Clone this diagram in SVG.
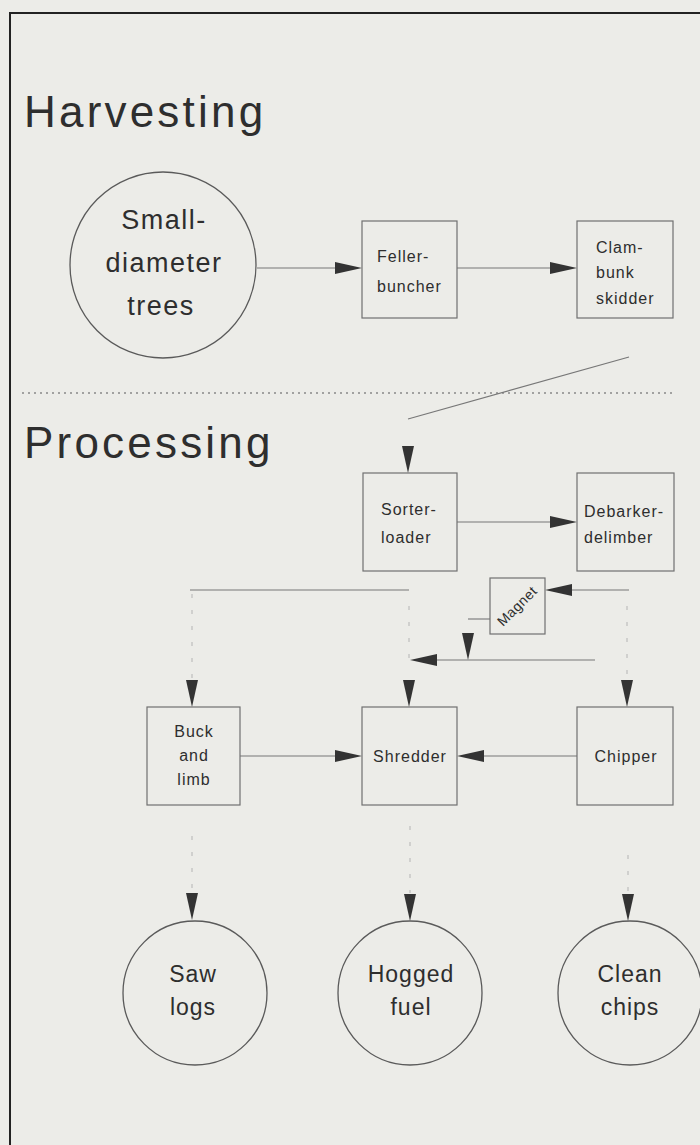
<svg xmlns="http://www.w3.org/2000/svg" xmlns:xlink="http://www.w3.org/1999/xlink" width="700" height="1145" viewBox="0 0 700 1145">
<style>
.t{font-family:"Liberation Sans",Arial,sans-serif;fill:#2e2e2e}
.h{font-size:44px;letter-spacing:3.2px}
.c{font-size:27px;letter-spacing:1.5px;text-anchor:middle}
.o{font-size:23px;letter-spacing:1px;text-anchor:middle}
.b{font-size:16px;letter-spacing:1px}
.bm{font-size:16px;letter-spacing:1px;text-anchor:middle}
.box{fill:none;stroke:#707070;stroke-width:1.2}
.circ{fill:none;stroke:#5a5a5a;stroke-width:1.3}
.ln{fill:none;stroke:#777;stroke-width:1.1}
.fl{fill:none;stroke:#b4b4b4;stroke-width:1;stroke-dasharray:4,12}
.ah{fill:#333}
</style>
<defs>
<polygon id="ar" points="0,0 -27,-6 -27,6"/>
<polygon id="al" points="0,0 27,-6 27,6"/>
<polygon id="ad" points="0,0 -6,-27 6,-27"/>
</defs>
<rect width="700" height="1145" fill="#ecece8"/>
<g id="frame">
<line x1="10" y1="13" x2="700" y2="13" stroke="#222" stroke-width="2"/>
<line x1="10" y1="12" x2="10" y2="1145" stroke="#222" stroke-width="2"/>
<line x1="22" y1="393" x2="675" y2="393" stroke="#888" stroke-width="1.5" stroke-dasharray="2,4"/>
</g>
<g id="titles">
<text class="t h" x="24" y="127">Harvesting</text>
<text class="t h" x="24" y="458">Processing</text>
</g>
<g id="connectors">
<line class="ln" x1="257" y1="268" x2="336" y2="268"/>
<use xlink:href="#ar" class="ah" x="362" y="268"/>
<line class="ln" x1="457" y1="268" x2="551" y2="268"/>
<use xlink:href="#ar" class="ah" x="577" y="268"/>
<line class="ln" x1="629" y1="357" x2="408" y2="419"/>
<use xlink:href="#ad" class="ah" x="408" y="473"/>
<line class="ln" x1="457" y1="522" x2="551" y2="522"/>
<use xlink:href="#ar" class="ah" x="577" y="522"/>
<line class="ln" x1="190" y1="590" x2="409" y2="590"/>
<line class="fl" x1="192" y1="594" x2="192" y2="678"/>
<use xlink:href="#ad" class="ah" x="192" y="707"/>
<line class="fl" x1="409" y1="606" x2="409" y2="658"/>
<line class="fl" x1="627" y1="606" x2="627" y2="678"/>
<line class="ln" x1="629" y1="590" x2="572" y2="590"/>
<use xlink:href="#al" class="ah" x="545" y="590"/>
<line class="ln" x1="490" y1="619" x2="468" y2="619"/>
<use xlink:href="#ad" class="ah" x="468" y="660"/>
<line class="ln" x1="595" y1="660" x2="436" y2="660"/>
<use xlink:href="#al" class="ah" x="410" y="660"/>
<use xlink:href="#ad" class="ah" x="409" y="707"/>
<use xlink:href="#ad" class="ah" x="627" y="707"/>
<line class="ln" x1="240" y1="756" x2="337" y2="756"/>
<use xlink:href="#ar" class="ah" x="362" y="756"/>
<line class="ln" x1="577" y1="756" x2="482" y2="756"/>
<use xlink:href="#al" class="ah" x="457" y="756"/>
<line class="fl" x1="192" y1="836" x2="192" y2="893"/>
<use xlink:href="#ad" class="ah" x="192" y="920"/>
<line class="fl" x1="410" y1="826" x2="410" y2="893"/>
<use xlink:href="#ad" class="ah" x="410" y="921"/>
<line class="fl" x1="628" y1="855" x2="628" y2="893"/>
<use xlink:href="#ad" class="ah" x="628" y="921"/>
</g>
<g id="trees">
<ellipse class="circ" cx="163" cy="265" rx="93" ry="93"/>
<text class="t c" x="164" y="229">Small-</text>
<text class="t c" x="164" y="272">diameter</text>
<text class="t c" x="161" y="315">trees</text>
</g>
<g id="feller">
<rect class="box" x="362" y="221" width="95" height="97"/>
<text class="t b" x="377" y="262">Feller-</text>
<text class="t b" x="377" y="292">buncher</text>
</g>
<g id="clambunk">
<rect class="box" x="577" y="221" width="96" height="97"/>
<text class="t b" x="596" y="253">Clam-</text>
<text class="t b" x="596" y="278">bunk</text>
<text class="t b" x="596" y="304">skidder</text>
</g>
<g id="sorter">
<rect class="box" x="363" y="473" width="94" height="98"/>
<text class="t b" x="381" y="515">Sorter-</text>
<text class="t b" x="381" y="543">loader</text>
</g>
<g id="debarker">
<rect class="box" x="577" y="473" width="97" height="98"/>
<text class="t b" x="584" y="517">Debarker-</text>
<text class="t b" x="584" y="543">delimber</text>
</g>
<g id="magnet">
<rect class="box" x="490" y="578" width="55" height="56"/>
<text class="t" x="517" y="611" font-size="14" letter-spacing="0.5" text-anchor="middle" transform="rotate(-45 517 606)">Magnet</text>
</g>
<g id="buck">
<rect class="box" x="147" y="707" width="93" height="98"/>
<text class="t bm" x="194" y="737">Buck</text>
<text class="t bm" x="194" y="761">and</text>
<text class="t bm" x="194" y="785">limb</text>
</g>
<g id="shredder">
<rect class="box" x="362" y="707" width="95" height="98"/>
<text class="t bm" x="410" y="762">Shredder</text>
</g>
<g id="chipper">
<rect class="box" x="577" y="707" width="96" height="98"/>
<text class="t bm" x="626" y="762">Chipper</text>
</g>
<g id="sawlogs">
<circle class="circ" cx="195" cy="993" r="72"/>
<text class="t o" x="193" y="982">Saw</text>
<text class="t o" x="193" y="1015">logs</text>
</g>
<g id="hogged">
<circle class="circ" cx="410" cy="993" r="72"/>
<text class="t o" x="411" y="982">Hogged</text>
<text class="t o" x="411" y="1015">fuel</text>
</g>
<g id="chips">
<circle class="circ" cx="630" cy="993" r="72"/>
<text class="t o" x="630" y="982">Clean</text>
<text class="t o" x="630" y="1015">chips</text>
</g>
</svg>
